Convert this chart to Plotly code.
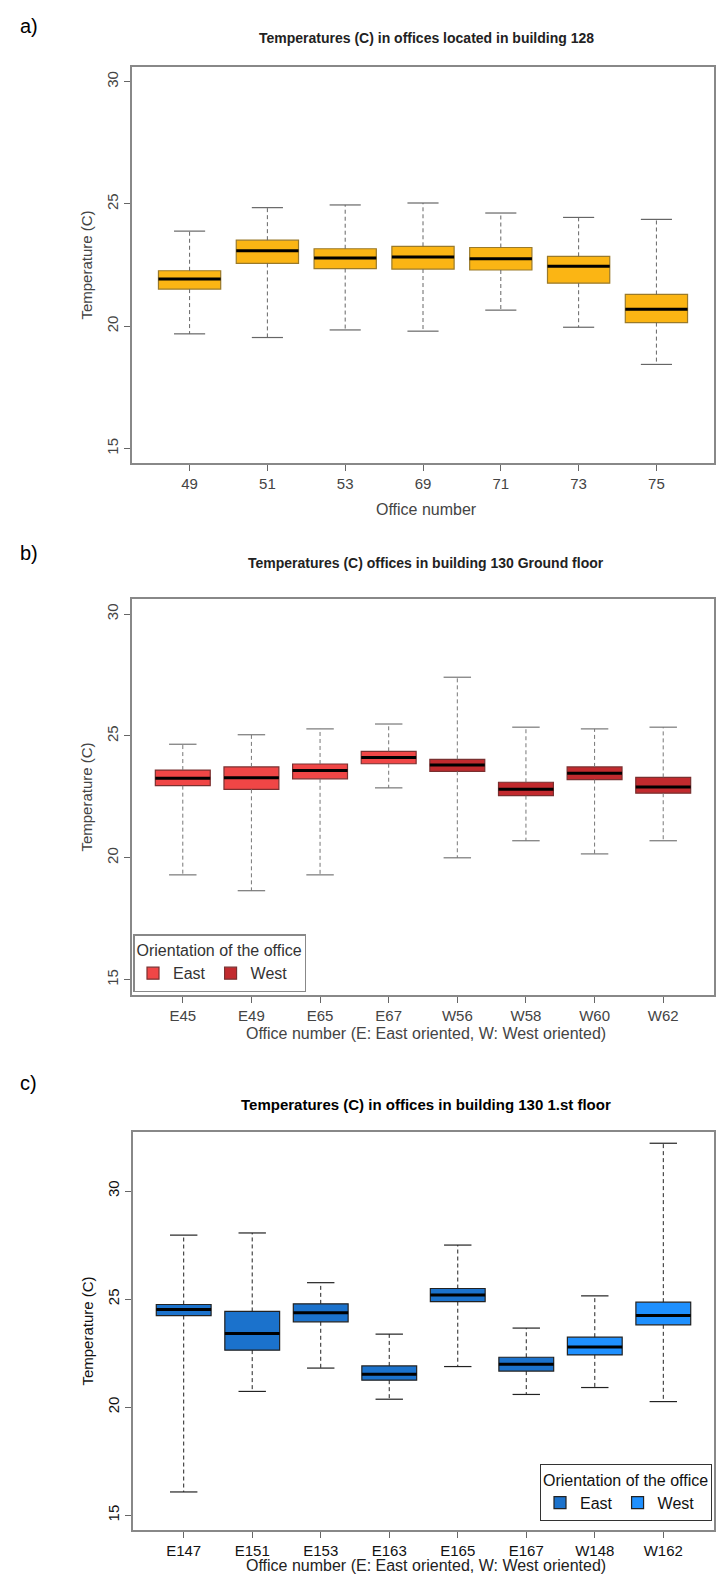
import plotly.graph_objects as go

# Panel a
a_cats = ["49", "51", "53", "69", "71", "73", "75"]
a_low = [19.69, 19.54, 19.85, 19.80, 20.66, 19.96, 18.44]
a_q1 = [21.52, 22.57, 22.36, 22.34, 22.30, 21.76, 20.15]
a_med = [21.93, 23.09, 22.79, 22.83, 22.76, 22.45, 20.70]
a_q3 = [22.27, 23.52, 23.17, 23.27, 23.22, 22.86, 21.30]
a_up = [23.89, 24.85, 24.96, 25.04, 24.63, 24.45, 24.37]

# Panel b
b_cats = ["E45", "E49", "E65", "E67", "W56", "W58", "W60", "W62"]
b_low = [19.30, 18.65, 19.30, 22.87, 20.00, 20.70, 20.16, 20.70]
b_q1 = [22.96, 22.81, 23.24, 23.86, 23.55, 22.55, 23.21, 22.65]
b_med = [23.26, 23.29, 23.58, 24.12, 23.81, 22.81, 23.47, 22.91]
b_q3 = [23.60, 23.73, 23.85, 24.37, 24.04, 23.10, 23.73, 23.30]
b_up = [24.66, 25.05, 25.29, 25.49, 27.41, 25.36, 25.29, 25.36]
b_orient = ["East", "East", "East", "East", "West", "West", "West", "West"]

# Panel c
c_cats = ["E147", "E151", "E153", "E163", "E165", "E167", "W148", "W162"]
c_low = [16.08, 20.73, 21.81, 20.37, 21.88, 20.59, 20.91, 20.26]
c_q1 = [24.24, 22.64, 23.95, 21.25, 24.88, 21.67, 22.42, 23.81]
c_med = [24.52, 23.41, 24.37, 21.53, 25.19, 21.99, 22.79, 24.24]
c_q3 = [24.75, 24.43, 24.78, 21.91, 25.49, 22.31, 23.24, 24.86]
c_up = [27.96, 28.06, 25.76, 23.38, 27.50, 23.66, 25.15, 32.21]
c_orient = ["East", "East", "East", "East", "East", "East", "West", "West"]

FONT = "Liberation Sans, Arial, sans-serif"
W, H = 708, 1576


def px(x):
    return min(x, W - 2) / W


def py(y):
    return 1 - y / H


fig = go.Figure()


def add_panel(idx, cats, low, q1, med, q3, up, colors, edge, wcol, legend=None, orient=None):
    xa = "x" if idx == 1 else f"x{idx}"
    ya = "y" if idx == 1 else f"y{idx}"
    shown = set()
    for i, c in enumerate(cats):
        pos = i + 1
        key = orient[i] if orient else None
        col = colors[key] if orient else colors
        fig.add_trace(go.Scatter(
            x=[pos, pos, None, pos, pos], y=[q3[i], up[i], None, q1[i], low[i]],
            mode="lines", line=dict(color=wcol, width=1, dash="4px,3px"),
            xaxis=xa, yaxis=ya, showlegend=False, hoverinfo="skip"))
        fig.add_trace(go.Scatter(
            x=[pos - 0.2, pos + 0.2, None, pos - 0.2, pos + 0.2],
            y=[up[i], up[i], None, low[i], low[i]],
            mode="lines", line=dict(color=wcol, width=1.2),
            xaxis=xa, yaxis=ya, showlegend=False, hoverinfo="skip"))
        show = bool(orient) and key not in shown
        if orient:
            shown.add(key)
        fig.add_trace(go.Box(
            x=[pos], q1=[q1[i]], median=[med[i]], q3=[q3[i]],
            lowerfence=[q1[i]], upperfence=[q3[i]], width=0.8,
            fillcolor=col, line=dict(color=edge, width=1.2),
            name=key if orient else c, showlegend=show,
            legend=legend if legend else "legend",
            legendgroup=f"{idx}{key}", xaxis=xa, yaxis=ya, whiskerwidth=0))
        fig.add_trace(go.Scatter(
            x=[pos - 0.4, pos + 0.4], y=[med[i], med[i]], mode="lines",
            line=dict(color="black", width=3), xaxis=xa, yaxis=ya,
            showlegend=False, hoverinfo="skip"))


add_panel(1, a_cats, a_low, a_q1, a_med, a_q3, a_up, "#FBB514", "#9a7a2a", "#666666")
add_panel(2, b_cats, b_low, b_q1, b_med, b_q3, b_up,
          {"East": "#F04646", "West": "#C22A2E"}, "#7a3030", "#777777", "legend", b_orient)
add_panel(3, c_cats, c_low, c_q1, c_med, c_q3, c_up,
          {"East": "#1B72CC", "West": "#1E90FF"}, "#222222", "#222222", "legend2", c_orient)

tick_gray = dict(family=FONT, size=15, color="#444444")
tick_blk = dict(family=FONT, size=15, color="#111111")


def xaxis(cats, dom, font, anchor):
    return dict(domain=dom, range=[0.26, len(cats) + 0.74], tickmode="array",
                tickvals=list(range(1, len(cats) + 1)), ticktext=cats,
                ticks="outside", ticklen=6, tickcolor="#666", showgrid=False,
                zeroline=False, showline=True, linecolor="#888", linewidth=1.5,
                mirror=True, tickfont=font, anchor=anchor)


def yaxis(dom, rng, font, anchor):
    return dict(domain=dom, range=rng, tickvals=[15, 20, 25, 30], tickangle=-90,
                ticks="outside", ticklen=6, tickcolor="#666", showgrid=False,
                zeroline=False, showline=True, linecolor="#888", linewidth=1.5,
                mirror=True, tickfont=font, anchor=anchor,
                title=dict(text="Temperature (C)", font=dict(family=FONT, size=15,
                           color=font["color"]), standoff=8))


fig.update_layout(
    width=W, height=H, margin=dict(l=0, r=0, t=0, b=0),
    paper_bgcolor="white", plot_bgcolor="white", font=dict(family=FONT),
    xaxis=xaxis(a_cats, [px(124), px(714)], tick_gray, "y"),
    yaxis=yaxis([py(455), py(59)], [14.41, 30.6], tick_gray, "x"),
    xaxis2=xaxis(b_cats, [px(124), px(714)], tick_gray, "y2"),
    yaxis2=yaxis([py(987), py(591)], [14.37, 30.62], tick_gray, "x2"),
    xaxis3=xaxis(c_cats, [px(125), px(716)], tick_blk, "y3"),
    yaxis3=yaxis([py(1522), py(1124)], [14.32, 32.73], tick_blk, "x3"),
    legend=dict(x=px(125), y=py(984), xanchor="left", yanchor="bottom",
                orientation="h", bordercolor="#888", borderwidth=1.5,
                bgcolor="white", font=dict(family=FONT, size=16, color="#333"),
                title=dict(text="Orientation of the office", side="top",
                           font=dict(family=FONT, size=16, color="#333"))),
    legend2=dict(x=px(704), y=py(1513), xanchor="right", yanchor="bottom",
                 orientation="h", bordercolor="#333", borderwidth=1,
                 bgcolor="white", font=dict(family=FONT, size=16, color="#111"),
                 title=dict(text="Orientation of the office", side="top",
                            font=dict(family=FONT, size=16, color="#111"))),
)

ann = [
    ("a)", 10, 18, 20, "black", "left"),
    ("b)", 10, 545, 20, "black", "left"),
    ("c)", 10, 1075, 20, "black", "left"),
    ("<b>Temperatures (C) in offices located in building 128</b>", 418, 30, 14, "#222", "center"),
    ("<b>Temperatures (C) offices in building 130 Ground floor</b>", 418, 555, 14, "#222", "center"),
    ("<b>Temperatures (C) in offices in building 130 1.st floor</b>", 418, 1096, 15, "black", "center"),
    ("Office number", 418, 502, 16, "#444", "center"),
    ("Office number (E: East oriented, W: West oriented)", 418, 1025, 16, "#444", "center"),
    ("Office number (E: East oriented, W: West oriented)", 418, 1557, 16, "#222", "center"),
]
for t, x, y, s, c, al in ann:
    fig.add_annotation(text=t, x=px(x), y=py(y), xref="paper", yref="paper",
                       xanchor=al, yanchor="middle", showarrow=False,
                       font=dict(family=FONT, size=s, color=c))

fig.write_html("out.html")
